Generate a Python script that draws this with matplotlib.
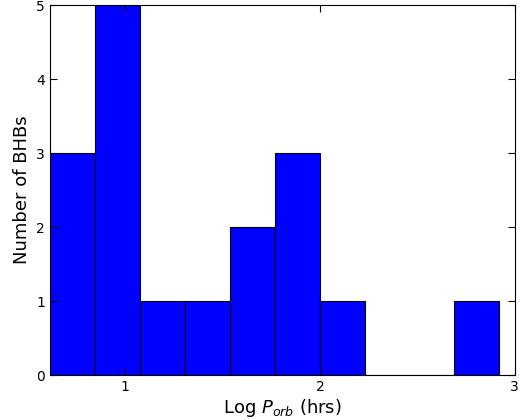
import matplotlib
matplotlib.use("Agg")
import matplotlib.pyplot as plt
import numpy as np

bin_edges = [0.615, 0.846, 1.077, 1.308, 1.538, 1.769, 2.0, 2.23, 2.46, 2.69, 2.92]
counts = [3, 5, 1, 1, 2, 3, 1, 0, 0, 1]
xticks = [1, 2, 3]
yticks = [0, 1, 2, 3, 4, 5]

fig = plt.figure(figsize=(5.2, 4.2), dpi=100)
ax = fig.add_axes([0.096, 0.107, 0.894, 0.881])
centers = [(a + b) / 2 for a, b in zip(bin_edges[:-1], bin_edges[1:])]
ax.hist(centers, bins=bin_edges, weights=counts, color='#0000ff', edgecolor='black', linewidth=0.8)
ax.set_xlim(0.615, 3.0)
ax.set_ylim(0, 5)
ax.set_xticks(xticks)
ax.set_yticks(yticks)
ax.tick_params(direction='in', top=True, right=True, labelsize=10, length=5)
ax.set_xlabel(r'Log $P_{orb}$ (hrs)', fontsize=13, labelpad=2)
ax.set_ylabel('Number of BHBs', fontsize=13)
fig.savefig('out.png')
